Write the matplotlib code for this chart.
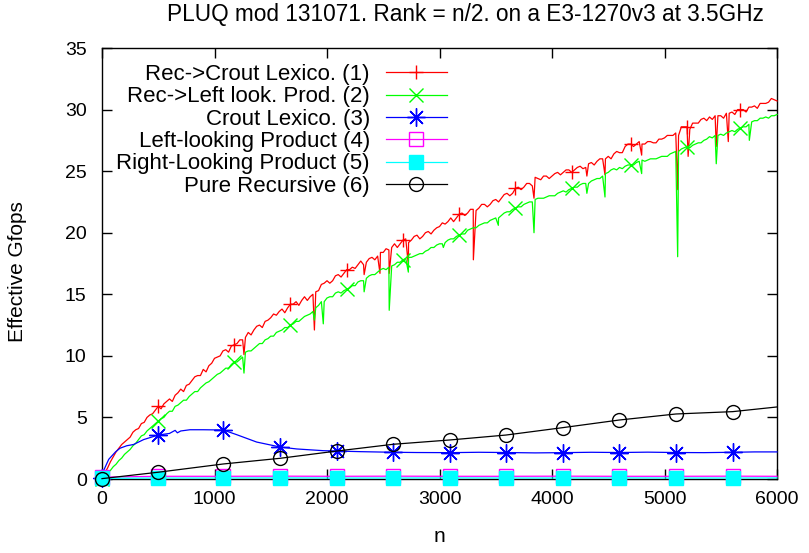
import numpy as np
import matplotlib
matplotlib.use("Agg")
import matplotlib.pyplot as plt

plt.rcParams['font.family'] = ['Liberation Sans', 'DejaVu Sans']

# ---------------- data ----------------
grid_n = list(range(0, 6001, 25))

rec_crout = [
    0.0, 0.5, 0.9, 1.4, 1.8, 2.2, 2.5, 2.8, 3.0, 3.2, 3.4, 3.8, 4.0, 4.1, 4.5, 4.6, 5.0, 5.2, 5.3, 5.6,
    5.9, 5.7, 6.1, 6.3, 6.5, 6.3, 6.8, 7.0, 7.3, 7.1, 7.6, 7.7, 8.0, 8.3, 8.4, 8.4, 8.9, 8.7, 9.2, 9.4,
    9.8, 9.9, 10.0, 10.4, 10.5, 10.3, 10.8, 10.9, 11.0, 11.3, 11.3, 11.5, 11.9, 11.7, 12.1, 12.4, 12.5, 12.3, 12.8, 12.9,
    13.1, 13.4, 13.3, 13.6, 13.8, 13.5, 13.9, 14.2, 14.2, 14.4, 14.1, 14.5, 14.8, 14.5, 14.8, 15.0, 15.2, 15.3, 15.8, 15.9,
    16.1, 15.9, 16.1, 16.5, 16.6, 16.4, 16.7, 17.0, 17.0, 17.2, 17.1, 17.4, 17.7, 17.4, 17.6, 17.9, 18.0, 17.8, 18.1, 18.4,
    18.4, 18.7, 18.6, 18.8, 19.1, 18.8, 19.1, 19.4, 19.5, 19.2, 19.4, 19.7, 19.8, 19.5, 19.7, 20.0, 20.1, 19.9, 20.2, 20.4,
    20.5, 20.8, 20.7, 20.9, 21.2, 20.9, 21.2, 21.5, 21.6, 21.4, 21.6, 21.9, 21.9, 21.8, 22.0, 22.3, 22.3, 22.1, 22.3, 22.6,
    22.7, 22.5, 22.8, 23.1, 23.2, 23.0, 23.2, 23.6, 23.7, 23.5, 23.7, 24.0, 24.0, 23.8, 24.5, 24.4, 24.3, 24.6, 24.6, 24.4,
    24.6, 24.8, 24.9, 24.7, 24.9, 25.1, 25.1, 24.9, 25.1, 25.3, 25.4, 25.2, 25.3, 25.6, 25.7, 25.5, 25.8, 26.0, 26.0, 26.0,
    26.2, 26.0, 26.4, 26.6, 26.5, 26.5, 27.0, 27.2, 27.2, 27.0, 27.2, 27.4, 27.2, 27.2, 27.4, 27.4, 27.3, 27.3, 27.6, 27.6,
    27.7, 27.9, 27.9, 27.9, 28.1, 27.9, 28.6, 28.6, 28.6, 28.4, 28.9, 28.9, 28.9, 29.2, 29.3, 29.1, 29.4, 29.2, 29.5, 29.5,
    29.5, 29.3, 29.7, 29.7, 29.8, 29.6, 30.0, 30.0, 30.0, 29.8, 30.2, 30.2, 30.3, 30.1, 30.5, 30.5, 30.5, 30.6, 30.9, 30.8,
    30.7,
]

rec_left = [
    0.0, 0.2, 0.5, 0.7, 1.0, 1.2, 1.5, 1.7, 2.0, 2.2, 2.4, 2.7, 2.9, 3.2, 3.5, 3.6, 3.9, 4.1, 4.3, 4.5,
    4.7, 4.9, 5.0, 5.3, 5.5, 5.5, 5.9, 6.0, 6.2, 6.4, 6.4, 6.7, 6.9, 7.1, 7.1, 7.4, 7.6, 7.8, 7.9, 8.1,
    8.3, 8.5, 8.6, 8.8, 9.0, 9.0, 9.3, 9.5, 9.5, 9.7, 9.9, 10.3, 10.4, 10.4, 10.6, 10.8, 11.0, 11.0, 11.3, 11.4,
    11.6, 11.6, 11.9, 12.0, 12.1, 12.3, 12.3, 12.5, 12.6, 12.8, 12.8, 13.0, 13.2, 13.3, 13.4, 13.6, 13.9, 14.1, 14.4, 14.4,
    14.7, 14.8, 14.8, 15.1, 15.2, 15.1, 15.3, 15.4, 15.5, 15.7, 15.7, 16.0, 16.1, 16.1, 16.3, 16.5, 16.6, 16.6, 16.8, 17.0,
    17.1, 17.0, 17.2, 17.3, 17.4, 17.6, 17.6, 17.8, 17.9, 18.0, 18.0, 18.1, 18.2, 18.3, 18.3, 18.5, 18.6, 18.8, 18.8, 19.0,
    19.1, 19.1, 19.2, 19.4, 19.5, 19.5, 19.7, 19.8, 19.9, 19.9, 20.2, 20.3, 20.4, 20.4, 20.6, 20.7, 20.8, 20.8, 21.0, 21.1,
    21.2, 21.2, 21.4, 21.6, 21.7, 21.7, 21.9, 22.0, 22.1, 22.1, 22.3, 22.4, 22.5, 22.5, 22.7, 22.8, 22.8, 22.8, 22.9, 23.0,
    23.0, 23.0, 23.2, 23.3, 23.4, 23.3, 23.5, 23.6, 23.7, 23.7, 23.9, 24.0, 24.0, 24.0, 24.2, 24.3, 24.4, 24.4, 24.6, 24.8,
    24.9, 25.1, 25.2, 25.1, 25.3, 25.2, 25.4, 25.5, 25.5, 25.5, 25.7, 25.8, 25.9, 25.8, 25.9, 26.0, 26.0, 26.0, 26.1, 26.2,
    26.2, 26.2, 26.4, 26.5, 26.6, 26.6, 26.8, 26.9, 27.0, 26.9, 27.1, 27.2, 27.3, 27.3, 27.5, 27.6, 27.8, 27.7, 27.9, 27.9,
    28.0, 27.9, 28.1, 28.2, 28.3, 28.2, 28.4, 28.5, 28.6, 28.6, 28.8, 29.0, 29.1, 29.1, 29.3, 29.3, 29.4, 29.3, 29.5, 29.5,
    29.6,
]

spike_n = [1262, 1888, 1967, 2330, 2471, 2553, 2723, 3034, 3301, 3523,
           3840, 4310, 4471, 4797, 5117, 5210, 5460, 5567, 5754]
rec_crout_spikes = [10.1, 12.1, None, 16.6, 16.7, 16.7, 17.4, None, 17.8, None,
                    22.8, 24.6, 24.7, 26.3, 23.5, 26.2, 27.0, 27.4, None]
rec_left_spikes = [8.6, 12.9, 12.6, 15.2, None, 13.7, 16.8, 18.8, None, 20.6,
                   20.0, 23.2, 22.9, 24.8, 18.05, None, 25.6, None, 27.5]

crout_n = [0, 20, 60, 120, 160, 220, 280, 370, 500, 600, 650, 670, 700, 782,
           900, 1078, 1197, 1375, 1582, 1730, 1967, 2086, 2300, 2589, 2800,
           3093, 3350, 3591, 3850, 4095, 4350, 4598, 4850, 5102, 5350, 5606,
           5800, 6000]
crout = [0.1, 0.8, 1.6, 2.2, 2.5, 2.7, 2.8, 3.2, 3.57, 3.7, 3.95, 3.75, 3.9,
         4.0, 4.0, 3.98, 3.6, 3.0, 2.6, 2.44, 2.3, 2.27, 2.22, 2.17, 2.15,
         2.14, 2.17, 2.15, 2.12, 2.14, 2.17, 2.15, 2.18, 2.15, 2.14, 2.17,
         2.2, 2.2]

slow_n = [0, 500, 1078, 1582, 2086, 2589, 3093, 3591, 4095, 4598, 5102, 5606, 6000]
left_prod = [0.15, 0.22, 0.22, 0.23, 0.22, 0.23, 0.22, 0.22, 0.23, 0.22, 0.22, 0.23, 0.22]
right_prod = [0.05, 0.08, 0.08, 0.09, 0.08, 0.08, 0.09, 0.08, 0.08, 0.09, 0.08, 0.08, 0.09]
pure_rec = [0.03, 0.55, 1.22, 1.68, 2.27, 2.82, 3.17, 3.57, 4.17, 4.79, 5.28, 5.47, 5.85]

fast_marks = [0, 500, 1175, 1675, 2175, 2675, 3175, 3675, 4175, 4700, 5200, 5675]
slow_marks = [0, 500, 1078, 1582, 2086, 2589, 3093, 3591, 4095, 4598, 5102, 5606]

labels = ["Rec->Crout Lexico. (1)", "Rec->Left look. Prod. (2)", "Crout Lexico. (3)",
          "Left-looking Product (4)", "Right-Looking Product (5)", "Pure Recursive (6)"]


def merge(base_n, base_v, sp_n, sp_v):
    pts = list(zip(base_n, base_v)) + [(a, b) for a, b in zip(sp_n, sp_v) if b is not None]
    pts.sort(key=lambda p: p[0])
    return [p[0] for p in pts], [p[1] for p in pts]


def mark_idx(xs, marks):
    return [xs.index(m) for m in marks]


# ---------------- figure ----------------
fig = plt.figure(figsize=(8.09, 5.53), dpi=100)
ax = fig.add_axes([102 / 809, 1 - 479 / 553, 675 / 809, 431 / 553])

fs_tick = 14
fs_text = 16
lw = 0.9
ms = 10

rx, ry = merge(grid_n, rec_crout, spike_n, rec_crout_spikes)
gx, gy = merge(grid_n, rec_left, spike_n, rec_left_spikes)

ax.plot(rx, ry, color='#ff0000', lw=lw, marker='+', ms=ms, mew=1.0,
        markevery=mark_idx(rx, fast_marks), label=labels[0], clip_on=False)
ax.plot(gx, gy, color='#00ff00', lw=lw, marker='x', ms=ms, mew=1.0,
        markevery=mark_idx(gx, fast_marks), label=labels[1], clip_on=False)
ax.plot(crout_n, crout, color='#0000ff', lw=lw, marker=(8, 2, 0), ms=ms + 3, mew=1.0,
        markevery=mark_idx(crout_n, slow_marks), label=labels[2], clip_on=False)
ax.plot(slow_n, left_prod, color='#ff00ff', lw=lw, marker='s', ms=ms, mew=1.0,
        mfc='none', markevery=mark_idx(slow_n, slow_marks), label=labels[3], clip_on=False)
ax.plot(slow_n, right_prod, color='#00ffff', lw=lw, marker='s', ms=ms, mew=1.0,
        markevery=mark_idx(slow_n, slow_marks), label=labels[4], clip_on=False)
ax.plot(slow_n, pure_rec, color='black', lw=lw, marker='o', ms=ms, mew=1.0,
        mfc='none', markevery=mark_idx(slow_n, slow_marks), label=labels[5], clip_on=False)

ax.set_xlim(0, 6000)
ax.set_ylim(0, 35)
ax.set_xticks(range(0, 6001, 1000))
ax.set_yticks(range(0, 36, 5))
ax.tick_params(direction='in', length=7, width=1, top=True, right=True,
               labelsize=fs_tick, pad=9)
ax.tick_params(axis='y', pad=11)
for s in ax.spines.values():
    s.set_linewidth(1.0)
    s.set_zorder(0.5)

leg = ax.legend(loc='upper right', bbox_to_anchor=((447 - 102) / 675, (479 - 64) / 431),
                markerfirst=False, frameon=False, fontsize=fs_text, handlelength=2.75,
                handletextpad=0.72, labelspacing=0.06, borderpad=0, borderaxespad=0)

fig.text(465 / 809, 1 - 14 / 553, "PLUQ mod 131071. Rank = n/2. on a E3-1270v3 at 3.5GHz",
         ha='center', va='center', fontsize=16.3)
fig.text(439 / 809, 1 - 537 / 553, "n", ha='center', va='center', fontsize=15)
fig.text(18 / 809, 1 - 272 / 553, "Effective Gfops", ha='center', va='center',
         rotation=90, fontsize=15)

fig.savefig("out.png", dpi=100)
